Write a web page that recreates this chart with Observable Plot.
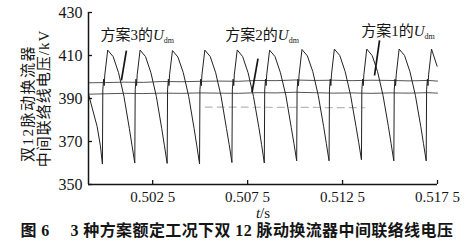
<!DOCTYPE html>
<html><head><meta charset="utf-8">
<script src="https://cdn.jsdelivr.net/npm/d3@7"></script>
<script src="https://cdn.jsdelivr.net/npm/@observablehq/plot@0.6"></script>
<style>
html,body{margin:0;padding:0;background:#fff;}
svg{display:block;}
</style></head><body><div id="chart"></div>
<script>
// ---- data ----
const xDomain = [0.49912, 0.5175];
const yDomain = [350, 430];
const xTicks = [0.5025, 0.5075, 0.5125, 0.5175];
const xTickLabels = ["0.502 5", "0.507 5", "0.512 5", "0.517 5"];
const yTicks = [350, 370, 390, 410, 430];

// Scheme 1 U_dm (large sawtooth ripple)
const sawT = [
  0.49912, 0.499574, 0.499747,
  0.499853, 0.499874, 0.499916, 0.499948, 0.499979, 0.500132, 0.500417, 0.500702, 0.500987, 0.501272, 0.501415,
  0.501558, 0.501579, 0.501621, 0.501653, 0.501684, 0.501837, 0.502122, 0.502407, 0.502692, 0.502977, 0.503120,
  0.503263, 0.503284, 0.503326, 0.503358, 0.503389, 0.503542, 0.503827, 0.504112, 0.504397, 0.504682, 0.504825,
  0.504968, 0.504989, 0.505031, 0.505063, 0.505094, 0.505247, 0.505532, 0.505817, 0.506102, 0.506387, 0.506530,
  0.506674, 0.506695, 0.506737, 0.506769, 0.506800, 0.506953, 0.507238, 0.507523, 0.507808, 0.508093, 0.508236,
  0.508379, 0.508400, 0.508442, 0.508474, 0.508505, 0.508658, 0.508943, 0.509228, 0.509513, 0.509798, 0.509941,
  0.510084, 0.510105, 0.510147, 0.510179, 0.510210, 0.510363, 0.510648, 0.510933, 0.511218, 0.511503, 0.511646,
  0.511789, 0.511810, 0.511852, 0.511884, 0.511915, 0.512068, 0.512353, 0.512638, 0.512923, 0.513208, 0.513351,
  0.513495, 0.513516, 0.513558, 0.513590, 0.513621, 0.513774, 0.514059, 0.514344, 0.514629, 0.514914, 0.515057,
  0.515200, 0.515221, 0.515263, 0.515295, 0.515326, 0.515479, 0.515764, 0.516049, 0.516334, 0.516619, 0.516762,
  0.516905, 0.516926, 0.516968, 0.517000, 0.517031, 0.517184, 0.517480
];
const sawV = [
  392, 377, 368,
  359.5, 394, 399, 396, 401, 412.5, 409.5, 402, 391, 376, 368,
  360, 394, 399, 396, 401, 412.5, 409.5, 402, 391, 376, 368,
  359.8, 394, 399, 396, 401, 412.3, 409.3, 402, 391, 376, 368,
  359.6, 394, 399, 396, 401, 412.5, 409.5, 402, 391, 376, 368.5,
  360.2, 394, 399, 396, 401, 412.6, 409.5, 402, 391, 376.5, 368.5,
  360, 394, 399, 396, 401, 412.5, 409.5, 402, 391.5, 376.5, 369,
  361, 394, 399, 396, 401, 412.8, 409.8, 402.5, 391.5, 377, 369,
  361, 394, 399, 396, 401, 413, 410, 402.5, 391.5, 377, 369.5,
  361.5, 394, 399, 396, 401, 413, 410, 402.5, 391.5, 377, 369,
  361, 394, 399, 396, 401, 413, 410, 402.5, 391.5, 377, 369,
  361, 394, 399, 396, 401, 413, 405
];

// Scheme 3 and scheme 2 U_dm (nearly flat)
const flatT = [0.49912, 0.5000, 0.5010, 0.5020, 0.5030, 0.5040, 0.5050, 0.5060, 0.5070, 0.5080,
               0.5090, 0.5100, 0.5110, 0.5120, 0.5130, 0.5140, 0.5150, 0.5160, 0.5170, 0.5175];
const scheme3V = [397.3, 397.4, 397.6, 397.5, 397.9, 397.8, 398.0, 398.1, 398.0, 398.4,
                  398.3, 398.6, 398.4, 398.5, 398.3, 398.5, 398.4, 398.2, 398.4, 398.1];
const scheme2V = [392.0, 392.2, 392.4, 392.3, 392.5, 392.4, 392.6, 392.5, 392.4, 392.7,
                  392.6, 392.9, 392.7, 392.5, 392.6, 392.4, 392.6, 392.5, 392.7, 392.5];

// faint grey dashed trace
const greyT = [0.50527, 0.50950, 0.51368];
const greyV = [386, 385.9, 385.7];

// annotations
const labelNames = ["方案3的U_dm", "方案2的U_dm", "方案1的U_dm"];
const labelT = [0.499747, 0.506326, 0.513484];
const labelV = [419.3, 419.3, 421.2];
const leaderT1 = [0.501116, 0.508047, 0.514447];
const leaderV1 = [412.3, 408.5, 417.0];
const leaderT2 = [0.500853, 0.507732, 0.514184];
const leaderV2 = [398.4, 392.9, 400.7];

const yTitle1 = "双12脉动换流器";
const yTitle2 = "中间联络线电压/kV";
const xTitle = "t/s";
const caption = "图 6\u2003 3 种方案额定工况下双 12 脉动换流器中间联络线电压";

// ---- build ----
const idx = (a) => a.map((_, i) => i);
const ink = "#151515";

const svg = Plot.plot({
  width: 465,
  height: 242,
  marginTop: 12,
  marginBottom: 58,
  marginLeft: 88,
  marginRight: 28,
  style: {fontFamily: "'Liberation Serif','Times New Roman','Noto Sans CJK SC',serif", color: ink, background: "#fff"},
  x: {domain: xDomain},
  y: {domain: yDomain},
  marks: [
    Plot.line(idx(greyT), {x: i => greyT[i], y: i => greyV[i], stroke: "#b8b8b8", strokeWidth: 1.2, strokeDasharray: "7,5"}),
    Plot.line(idx(flatT), {x: i => flatT[i], y: i => scheme3V[i], stroke: "#555", strokeWidth: 1}),
    Plot.line(idx(flatT), {x: i => flatT[i], y: i => scheme2V[i], stroke: "#555", strokeWidth: 1}),
    Plot.line(idx(sawT), {x: i => sawT[i], y: i => sawV[i], stroke: "#222", strokeWidth: 1, curve: "linear"}),
    Plot.link(idx(leaderT1), {x1: i => leaderT1[i], y1: i => leaderV1[i], x2: i => leaderT2[i], y2: i => leaderV2[i], stroke: ink, strokeWidth: 1.7}),
    Plot.text(idx(labelNames), {x: i => labelT[i], y: i => labelV[i], text: i => labelNames[i], textAnchor: "start", fontSize: 15, fill: ink}),
    Plot.ruleX([xDomain[0]], {stroke: ink, strokeWidth: 1.5}),
    Plot.ruleY([yDomain[0]], {stroke: ink, strokeWidth: 1.5}),
    Plot.axisY({ticks: yTicks, tickSize: 0, tickPadding: 6, label: null, fontSize: 16}),
    Plot.axisY({ticks: yTicks, tickSize: -4, tickFormat: () => "", label: null, strokeWidth: 1.3}),
    Plot.axisX({ticks: xTicks, tickSize: 0, tickPadding: 7, label: null, fontSize: 15, tickFormat: d => xTickLabels[xTicks.indexOf(d)]}),
    Plot.axisX({ticks: xTicks, tickSize: -4, tickFormat: () => "", label: null, strokeWidth: 1.3}),
    Plot.text([yTitle1], {frameAnchor: "left", rotate: -90, dx: -60, dy: 5, textAnchor: "middle", lineAnchor: "middle", fontSize: 15, fill: ink}),
    Plot.text([yTitle2], {frameAnchor: "left", rotate: -90, dx: -44, dy: 0, textAnchor: "middle", lineAnchor: "middle", fontSize: 15, fill: ink}),
    Plot.text([xTitle], {frameAnchor: "bottom", dy: 29, lineAnchor: "middle", fontSize: 15, fill: ink}),
    Plot.text([caption], {frameAnchor: "bottom-left", dx: -68, dy: 46, textAnchor: "start", lineAnchor: "middle", fontSize: 16, fontWeight: "bold", fill: ink})
  ]
});

// mixed-style text (italic U with subscript, italic t)
const NS = "http://www.w3.org/2000/svg";
function span(parent, txt, attrs) {
  const s = document.createElementNS(NS, "tspan");
  s.textContent = txt;
  for (const k in attrs) s.setAttribute(k, attrs[k]);
  parent.appendChild(s);
}
for (const t of svg.querySelectorAll("text")) {
  const s = t.textContent;
  if (s.endsWith("U_dm")) {
    t.textContent = "";
    span(t, s.slice(0, -4), {});
    span(t, "U", {"font-style": "italic"});
    span(t, "dm", {"font-size": 8, "dy": 3});
  } else if (s === xTitle) {
    t.textContent = "";
    span(t, "t", {"font-style": "italic"});
    span(t, "/s", {});
  } else if (s === caption) {
    t.setAttribute("letter-spacing", "0.4");
  } else if (s === yTitle1) {
    t.setAttribute("letter-spacing", "1.5");
  } else if (s === yTitle2) {
    t.setAttribute("letter-spacing", "1");
  }
}
document.getElementById("chart").appendChild(svg);
</script>
</body></html>
